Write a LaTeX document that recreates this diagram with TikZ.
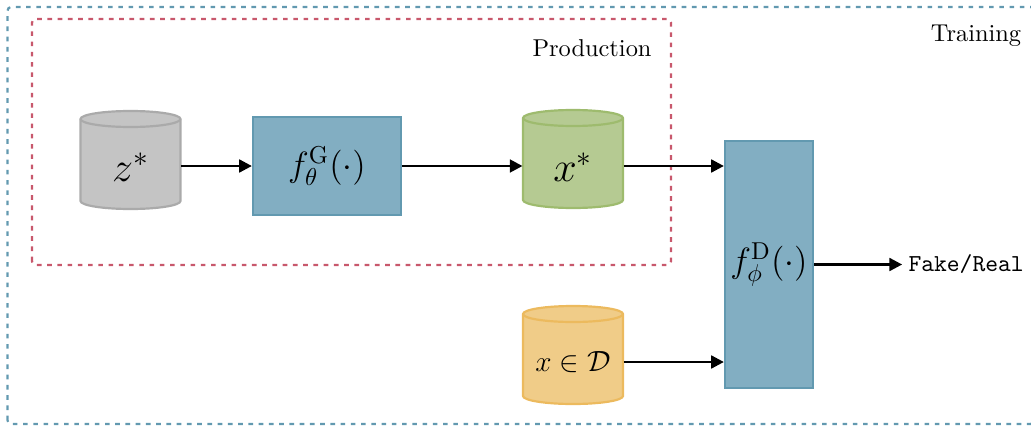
\documentclass[tikz,border=0pt]{standalone}
\usetikzlibrary{arrows.meta}
\definecolor{trainc}{RGB}{98,153,176}
\definecolor{prodc}{RGB}{200,88,108}
\definecolor{boxfill}{RGB}{130,174,194}
\definecolor{boxdraw}{RGB}{98,153,176}
\definecolor{grayfill}{RGB}{196,196,196}
\definecolor{graydraw}{RGB}{170,170,170}
\definecolor{greenfill}{RGB}{181,202,146}
\definecolor{greendraw}{RGB}{158,187,110}
\definecolor{orangefill}{RGB}{240,204,136}
\definecolor{orangedraw}{RGB}{236,186,94}
\tikzset{
  region/.style={line width=0.9pt, dash pattern=on 1.9pt off 2.3pt, rounded corners=1.5pt},
  func/.style={draw=#1, fill=boxfill, line width=0.9pt, minimum width=60.7pt, minimum height=40.2pt, inner sep=0pt},
  lbl/.style={inner sep=0pt},
  arr/.style={line width=1.1pt, -{Triangle[length=5.2pt,width=5.2pt]}},
  cylbody/.style={line width=0.9pt},
}
% cylinder: cx, top, bottom, fill, draw  (px, y up)
\newcommand\drawcyl[5]{%
  \filldraw[cylbody, fill=#4, draw=#5]
    ({#1-50},{#2-8}) -- ({#1-50},{#3+8})
    arc[start angle=180, end angle=360, x radius=50, y radius=8]
    -- ({#1+50},{#2-8})
    arc[start angle=0, end angle=180, x radius=50, y radius=8] -- cycle;
  \draw[cylbody, draw=#5] ({#1-50},{#2-8})
    arc[start angle=180, end angle=360, x radius=50, y radius=8];
}
\begin{document}
\begin{tikzpicture}[x=0.41pt, y=0.41pt]
\useasboundingbox (0,0) rectangle (1031,426);
% regions
\draw[region, draw=trainc] (7.5,2) rectangle (1034,419);
\draw[region, draw=prodc] (32,161) rectangle (671,407);
\node[lbl] (train) at (976,390) {Training};
\node[lbl] (prod) at (592,378) {Production};
% cylinders
\drawcyl{130.5}{315}{217}{grayfill}{graydraw}
\drawcyl{573}{316}{218}{greenfill}{greendraw}
\drawcyl{573}{120}{22}{orangefill}{orangedraw}
\node[lbl, minimum width=41pt] (z) at (130.5,259) {\LARGE $z^*$};
\node[lbl, minimum width=41pt] (xs) at (573,259) {\LARGE $x^*$};
\node[lbl, minimum width=41pt] (xd) at (573,64) {\large $x\in\mathcal{D}$};
% functions
\node[func=boxdraw] (g) at (327,260) {\Large $f_\theta^{\mathrm{G}}(\cdot)$};
\node[func=boxdraw, minimum width=36.1pt, minimum height=101.3pt] (d) at (769,161.5) {\Large $f_\phi^{\mathrm{D}}(\cdot)$};
\node[lbl, anchor=west] (out) at (908,161.5) {\texttt{Fake/Real}};
% connectors
\draw[arr] (z.east |- g.west) -- (g.west);
\draw[arr] (g.east) -- (xs.west |- g.east);
\draw[arr] (xs.east |- g.east) -- (d.west |- g.east);
\draw[arr] (xd.east) -- (d.west |- xd.east);
\draw[arr] (d.east) -- ([xshift=-2.4pt]out.west);
\end{tikzpicture}
\end{document}
